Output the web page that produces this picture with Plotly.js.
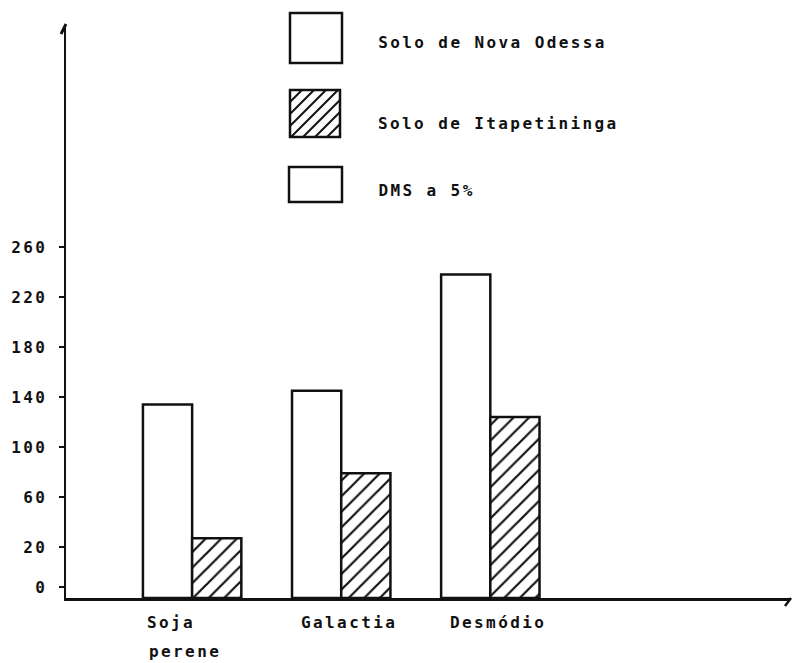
<!DOCTYPE html>
<html>
<head>
<meta charset="utf-8">
<script src="https://cdn.plot.ly/plotly-3.0.1.min.js"></script>
<style>
  html, body { margin: 0; padding: 0; background: #fff; }
  #chart { width: 794px; height: 663px; }
  #chart text { letter-spacing: 2.4px; }
</style>
</head>
<body>
<div id="chart"></div>
<script>
// ---- data ----
const categories = ["Soja<br>perene", "Galactia", "Desmódio"];
const novaOdessa = [134, 145, 238];
const itapetininga = [27, 79, 124];
const seriesNames = ["Solo de Nova Odessa", "Solo de Itapetininga", "DMS a 5%"];
const yTickVals = [-12, 20, 60, 100, 140, 180, 220, 260];
const yTickText = ["0", "20", "60", "100", "140", "180", "220", "260"];

// ---- layout constants ----
const W = 794, H = 663;
const M = { l: 66, r: 4, t: 25, b: 65 };
const FLOOR = -20.8;            // value at the drawn base line
const Y_TOP = 437.6;
const LS = 2.4;                 // css letter spacing
const FONT = { family: "DejaVu Sans Mono", size: 16, color: "#111", weight: "bold" };
const LW = 2.5;

const pw = W - M.l - M.r, ph = H - M.t - M.b;
const px = x => (x - M.l) / pw;
const py = y => (H - M.b - y) / ph;

function rect(x0, y0, x1, y1) {
  return { type: "rect", xref: "paper", yref: "paper",
    x0: px(x0), x1: px(x1), y0: py(y1), y1: py(y0),
    line: { color: "#111", width: LW }, fillcolor: "rgba(0,0,0,0)" };
}
function seg(x0, y0, x1, y1, w) {
  return { type: "line", xref: "paper", yref: "paper",
    x0: px(x0), x1: px(x1), y0: py(y0), y1: py(y1),
    line: { color: "#111", width: w || LW } };
}
const plainLen = s => s.replace(/<[^>]+>/g, "").length;

const xIdx = categories.map((c, i) => i);

const traces = [
  { type: "bar", name: seriesNames[0], x: xIdx,
    y: novaOdessa.map(v => v - FLOOR), base: FLOOR,
    marker: { color: "#fff", line: { color: "#111", width: LW } },
    hoverinfo: "skip" },
  { type: "bar", name: seriesNames[1], x: xIdx,
    y: itapetininga.map(v => v - FLOOR), base: FLOOR,
    marker: { color: "#fff", line: { color: "#111", width: LW },
      pattern: { shape: "/", size: 11, solidity: 0.2, fgcolor: "#111", bgcolor: "#fff" } },
    hoverinfo: "skip" }
];

const shapes = [
  rect(290, 13, 342, 63),
  rect(290, 90, 340, 137),
  rect(289, 167, 342, 202),
  seg(66, 24, 61, 34, 3),
  seg(791, 598, 785, 606, 2.5)
];
// '/' hatch for legend box 2
(function () {
  const x0 = 290, y0 = 90, x1 = 340, y1 = 137, step = 12;
  const w = x1 - x0, h = y1 - y0;
  for (let k = step; k < w + h; k += step) {
    const ax = x0 + Math.max(0, k - h), ay = y0 + Math.min(k, h);
    const bx = x0 + Math.min(k, w), by = y0 + Math.max(0, k - w);
    shapes.push(seg(ax, ay, bx, by, 2));
  }
})();

const annotations = [
  { text: seriesNames[0], x: px(376), y: py(42) },
  { text: seriesNames[1], x: px(376), y: py(123) },
  { text: seriesNames[2], x: px(376), y: py(190) }
].map(a => Object.assign({ xref: "paper", yref: "paper", xanchor: "left",
  yanchor: "middle", showarrow: false, font: FONT,
  xshift: plainLen(a.text) * LS / 2 }, a));

categories.forEach((c, i) => {
  c.split("<br>").forEach((line, j) => {
    annotations.push({ text: line, x: i, xref: "x", y: 0, yref: "paper",
      xanchor: "left", yanchor: "top", align: "left",
      xshift: -52 + line.length * LS / 2, yshift: -13 - 29 * j,
      showarrow: false, font: FONT });
  });
});

const layout = {
  width: W, height: H,
  margin: M,
  paper_bgcolor: "#fff", plot_bgcolor: "#fff",
  showlegend: false,
  barmode: "group", bargap: 0.34, bargroupgap: 0,
  font: FONT,
  xaxis: { range: [-0.846, 4.01], showgrid: false, zeroline: false,
    showline: true, linecolor: "#111", linewidth: LW,
    showticklabels: false, ticks: "", fixedrange: true },
  yaxis: { range: [FLOOR, Y_TOP], showgrid: false, zeroline: false,
    showline: true, linecolor: "#111", linewidth: LW,
    tickmode: "array", tickvals: yTickVals, ticktext: yTickText,
    ticks: "outside", ticklen: 5, tickwidth: 2, tickcolor: "#111",
    ticklabelstandoff: 8, tickfont: FONT, fixedrange: true },
  shapes: shapes,
  annotations: annotations
};

Plotly.newPlot("chart", traces, layout, { staticPlot: true, displayModeBar: false });
</script>
</body>
</html>
